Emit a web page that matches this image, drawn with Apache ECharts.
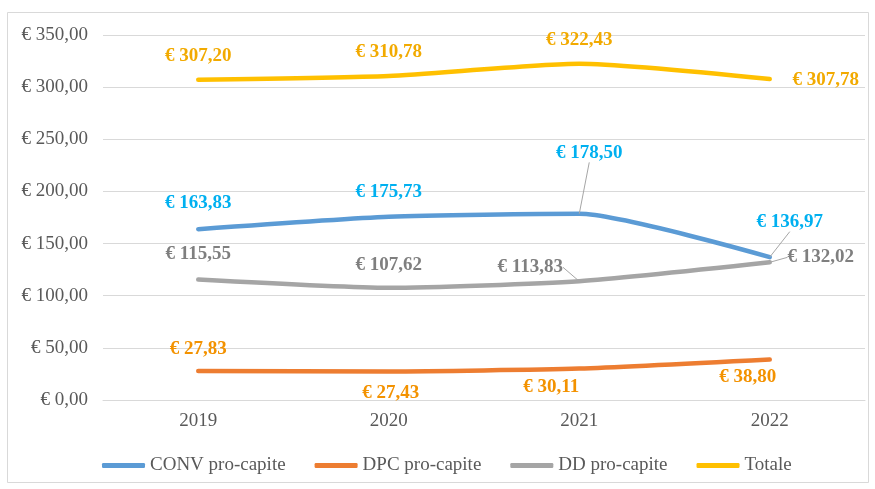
<!DOCTYPE html>
<html>
<head>
<meta charset="utf-8">
<script src="https://cdn.jsdelivr.net/npm/echarts@6/dist/echarts.min.js"></script>
<style>
html,body{margin:0;padding:0;background:#fff;}
#c{width:875px;height:489px;}
</style>
</head>
<body>
<div id="c"></div>
<script>
// ---- data ----
const years = ['2019', '2020', '2021', '2022'];
const convProCapite = [163.83, 175.73, 178.50, 136.97];
const dpcProCapite = [27.83, 27.43, 30.11, 38.80];
const ddProCapite = [115.55, 107.62, 113.83, 132.02];
const totale = [307.20, 310.78, 322.43, 307.78];
const seriesNames = ['CONV pro-capite', 'DPC pro-capite', 'DD pro-capite', 'Totale'];
const yTicks = [0, 50, 100, 150, 200, 250, 300, 350];

// ---- label placement (style only) ----
const labelOffsets = {
  conv: [[0, -26], [0, -25], [10, -61], [20, -35]],
  dpc: [[0, -22], [2, 22], [-28, 18], [-22, 18]],
  dd: [[0, -25], [0, -23], [-49, -14], [51, -5]],
  tot: [[0, -24], [0, -24], [0, -24], [56, 1]]
};
const leaderIdx = { conv: [2, 3], dpc: [], dd: [2, 3], tot: [] };

const FONT = 'Liberation Serif';
const FS = 19;
const fmt = v => '€ ' + v.toFixed(2).replace('.', ',');

function mkSeries(name, values, key, lineColor, labelColor) {
  return {
    name: name,
    type: 'line',
    smooth: 0.2,
    symbol: 'circle',
    symbolSize: 0.1,
    showSymbol: true,
    itemStyle: { color: lineColor },
    lineStyle: { color: lineColor, width: 4.5, cap: 'round', join: 'round' },
    emphasis: { disabled: true },
    label: {
      show: true,
      position: 'inside',
      align: 'center',
      verticalAlign: 'middle',
      fontFamily: FONT,
      fontWeight: 'bold',
      fontSize: FS,
      color: labelColor,
      formatter: p => fmt(p.value)
    },
    labelLine: { show: false },
    data: values.map((v, i) => {
      const item = { value: v, label: { offset: labelOffsets[key][i] } };
      if (leaderIdx[key].indexOf(i) >= 0) {
        item.labelLine = { show: true, lineStyle: { color: '#A6A6A6', width: 1 } };
      }
      return item;
    })
  };
}

const chart = echarts.init(document.getElementById('c'), null, { renderer: 'canvas' });
chart.setOption({
  animation: false,
  backgroundColor: '#ffffff',
  graphic: [{
    type: 'rect',
    shape: { x: 7.5, y: 12.5, width: 861, height: 470 },
    style: { fill: 'none', stroke: '#D9D9D9', lineWidth: 1 },
    silent: true,
    z: -1
  }],
  grid: { left: 103, right: 10, top: 35, bottom: 89, containLabel: false },
  legend: {
    left: 97,
    top: 451,
    icon: 'roundRect',
    itemWidth: 43,
    itemHeight: 5,
    itemGap: 29,
    textStyle: { fontFamily: FONT, fontSize: FS, color: '#595959' },
    data: seriesNames
  },
  xAxis: {
    type: 'category',
    data: years,
    boundaryGap: true,
    axisLine: { show: true, lineStyle: { color: '#D9D9D9', width: 1 } },
    axisTick: { show: false },
    axisLabel: { fontFamily: FONT, fontSize: FS, color: '#595959', margin: 12 },
    splitLine: { show: false }
  },
  yAxis: {
    type: 'value',
    min: yTicks[0],
    max: yTicks[yTicks.length - 1],
    interval: 50,
    axisLine: { show: false },
    axisTick: { show: false },
    axisLabel: {
      fontFamily: FONT, fontSize: FS, color: '#595959', margin: 15,
      formatter: v => fmt(v)
    },
    splitLine: { lineStyle: { color: '#D9D9D9', width: 1 } }
  },
  series: [
    mkSeries(seriesNames[0], convProCapite, 'conv', '#5B9BD5', '#00B0F0'),
    mkSeries(seriesNames[1], dpcProCapite, 'dpc', '#ED7D31', '#F39200'),
    mkSeries(seriesNames[2], ddProCapite, 'dd', '#A5A5A5', '#7F7F7F'),
    mkSeries(seriesNames[3], totale, 'tot', '#FFC000', '#F2AA00')
  ]
});
</script>
</body>
</html>
